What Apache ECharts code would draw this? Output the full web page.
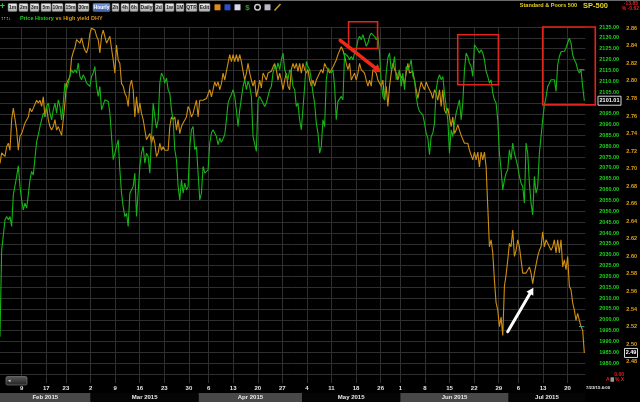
<!DOCTYPE html>
<html><head><meta charset="utf-8">
<script src="https://cdn.jsdelivr.net/npm/echarts@6/dist/echarts.min.js"></script>
<style>html,body{margin:0;padding:0;background:#000;overflow:hidden}#c{width:640px;height:402px}</style>
</head><body><div id="c"></div>
<script>
// ---------- DATA ----------
// Time axis: trading-day index (0 = Mon 2 Feb 2015). Samples are uniformly spaced in trading time.
const START_DAY = 0.589;
const SAMPLE_STEP = 0.3385;
const AXIS_MIN_DAY = 0.589;
const AXIS_MAX_DAY = 119.6;

// S&P 500 (Price History, left scale)
const priceValues = [
1992.2,2032.2,2039.1,2046.1,2047.6,2046.1,2047.6,2043.0,2057.6,2058.4,
2066.1,2071.0,2061.5,2055.3,2050.7,2053.8,2051.5,2057.6,2064.5,2068.4,
2066.8,2067.6,2082.2,2085.3,2089.1,2092.2,2095.3,2093.8,2098.4,2099.9,
2095.3,2092.2,2096.8,2099.9,2095.3,2101.4,2098.4,2092.2,2099.9,2109.1,
2106.1,2109.1,2112.2,2115.3,2113.8,2115.3,2113.8,2118.4,2112.2,2110.7,
2113.0,2111.5,2109.1,2108.8,2107.6,2112.2,2113.8,2116.8,2107.6,2103.0,
2107.6,2096.8,2099.1,2101.4,2102.2,2100.7,2095.3,2084.5,2073.8,2076.8,
2079.9,2083.0,2069.1,2058.4,2052.2,2047.6,2049.1,2043.0,2058.4,2059.9,
2061.5,2067.6,2047.6,2047.6,2070.7,2076.8,2079.9,
2072.2,2076.8,2075.3,2067.6,2067.6,2099.9,2093.8,2088.4,2092.2,2109.1,
2113.8,2112.2,2109.1,2111.5,2106.1,2104.5,2096.8,2092.2,2078.4,2073.8,
2061.5,2055.3,2064.5,2058.4,2063.0,2059.9,2061.5,2079.9,2087.6,2089.1,
2078.4,2079.9,2067.6,2055.3,2058.4,2070.7,2067.6,2067.6,2069.1,2081.5,
2086.1,2087.6,2088.4,2084.5,2080.7,2083.8,2081.8,2082.7,2085.3,2092.2,
2099.9,2102.2,2103.8,2106.1,2103.0,2096.8,2089.1,2096.8,2096.8,2107.6,
2110.7,2106.1,2109.9,2107.6,2103.0,2084.5,2084.5,2077.6,2101.4,2103.0,
2101.4,2099.9,2098.4,2099.9,2103.0,2106.1,2107.6,2113.8,2116.8,2115.3,
2118.4,2115.3,2119.9,2123.0,2115.3,2113.0,2110.7,
2115.3,2113.8,2107.6,2106.1,2098.4,2099.9,2092.2,2087.6,2097.6,2107.6,
2119.1,2116.8,2115.3,2110.7,2104.5,2099.9,2090.7,2086.1,2076.8,2079.9,
2092.2,2089.1,2110.7,2116.1,2116.1,2113.8,2115.3,2107.6,2092.2,2100.7,
2099.9,2103.0,2101.4,2123.0,2123.8,2121.4,2119.9,2121.4,2119.9,2123.0,
2124.5,2129.1,2130.7,2129.1,2131.5,2129.1,2126.1,2127.6,2130.7,2132.2,
2131.5,2130.7,2129.1,2130.7,2123.0,2109.1,2103.0,2101.4,2113.8,2120.7,
2123.0,2115.3,2116.8,2121.4,2110.7,2110.7,2115.3,2107.6,2113.8,2106.1,
2116.8,2115.3,2116.8,2119.9,2112.2,2110.7,2103.0,2098.4,2096.1,2095.6,
2094.5,2090.7,2086.1,2083.8,2076.1,2084.5,2086.1,
2090.7,2106.1,2110.7,2113.0,2110.7,2112.2,2104.5,2098.4,2092.2,2076.8,
2087.6,2084.5,2090.7,2095.3,2098.4,2101.4,2092.2,2099.9,2115.3,2123.0,
2121.4,2118.4,2116.8,2112.2,2126.8,2126.1,2124.5,2123.0,2124.5,2123.0,
2119.9,2114.5,2112.2,2109.1,2110.7,2104.5,2101.4,2099.9,2092.2,2076.8,
2069.1,2059.9,2064.5,2067.6,2069.1,2078.4,2073.8,2081.5,2076.8,2073.8,
2070.7,2066.1,2063.0,2061.5,2053.8,2081.5,2076.8,2063.0,2053.8,2048.4,
2066.1,2058.4,2061.5,2076.8,2076.8,2092.2,2099.1,2102.7,2107.6,2109.1,
2110.7,2111.5,2110.7,2105.3,2117.6,2121.4,2123.6,2123.3,2123.8,2125.3,
2127.6,2129.9,2127.6,2122.2,2119.9,2118.4,2115.3,2113.8,2115.3,2107.6,
2101.01
];

// High yield DHY (right scale)
const dhyValues = [
2.706,2.718,2.718,2.714,2.725,2.729,2.721,2.756,2.769,2.769,
2.744,2.721,2.737,2.740,2.740,2.752,2.752,2.759,2.769,2.765,
2.769,2.767,2.778,2.775,2.778,2.771,2.782,2.759,2.771,2.756,
2.748,2.744,2.748,2.756,2.744,2.748,2.748,2.738,2.756,2.775,
2.797,2.801,2.805,2.826,2.833,2.838,2.847,2.849,2.843,2.849,
2.841,2.835,2.832,2.839,2.854,2.860,2.860,2.858,2.851,2.847,
2.832,2.851,2.858,2.860,2.843,2.843,2.851,2.837,2.824,2.809,
2.841,2.824,2.820,2.797,2.794,2.786,2.782,2.771,2.794,2.801,
2.790,2.759,2.782,2.763,2.775,2.763,2.756,
2.756,2.733,2.733,2.740,2.729,2.737,2.729,2.714,2.718,2.729,
2.721,2.725,2.721,2.721,2.721,2.748,2.759,2.756,2.759,2.744,
2.756,2.740,2.748,2.752,2.752,2.759,2.771,2.767,2.759,2.763,
2.771,2.778,2.759,2.778,2.780,2.778,2.780,2.780,2.782,2.790,
2.782,2.790,2.799,2.794,2.799,2.790,2.797,2.809,2.801,2.811,
2.809,2.830,2.822,2.830,2.822,2.830,2.822,2.830,2.822,2.811,
2.801,2.809,2.820,2.809,2.801,2.794,2.801,2.782,2.790,2.801,
2.792,2.809,2.811,2.801,2.809,2.811,2.811,2.816,2.820,2.813,
2.801,2.809,2.801,2.790,2.801,2.809,2.794,
2.790,2.813,2.820,2.814,2.820,2.811,2.820,2.809,2.820,2.813,
2.809,2.813,2.801,2.794,2.801,2.794,2.801,2.803,2.809,2.813,
2.809,2.820,2.816,2.813,2.809,2.811,2.816,2.820,2.824,2.830,
2.832,2.839,2.835,2.828,2.820,2.813,2.820,2.801,2.803,2.809,
2.801,2.809,2.820,2.813,2.811,2.809,2.801,2.794,2.801,2.794,
2.813,2.811,2.809,2.801,2.801,2.794,2.801,2.778,2.794,2.771,
2.794,2.809,2.820,2.813,2.809,2.801,2.809,2.805,2.801,2.797,
2.809,2.820,2.809,2.809,2.811,2.809,2.790,2.780,2.790,2.799,
2.794,2.790,2.799,2.794,2.790,2.786,2.780,
2.790,2.786,2.778,2.790,2.771,2.790,2.767,2.763,2.769,2.759,
2.748,2.759,2.740,2.744,2.750,2.744,2.738,2.738,2.729,2.731,
2.729,2.721,2.721,2.710,2.719,2.710,2.719,2.702,2.719,2.710,
2.719,2.702,2.657,2.611,2.619,2.604,2.573,2.547,2.539,2.520,
2.531,2.510,2.566,2.579,2.596,2.615,2.611,2.630,2.600,2.607,
2.619,2.611,2.596,2.581,2.581,2.581,2.581,2.588,2.581,2.569,
2.581,2.581,2.600,2.607,2.611,2.628,2.611,2.619,2.621,2.611,
2.607,2.611,2.619,2.604,2.619,2.604,2.619,2.588,2.596,2.585,
2.600,2.566,2.562,2.547,2.539,2.527,2.535,2.527,2.520,2.516,
2.49
];

// x-axis ticks (trading-day index of each week start) and their labels
const tickDays   = [5,10,14,19,24,29,34,39,43,48,53,58,63,68,73,78,82,87,92,97,102,106,111,116];
const tickLabels = ['9','17','23','2','9','16','23','30','6','13','20','27','4','11','18','26','1','8','15','22','29','6','13','20'];

// month bands
const monthNames     = ['Feb 2015','Mar 2015','Apr 2015','May 2015','Jun 2015','Jul 2015'];
const monthStartDays = [0,19,41,62,82,104];

// y-axis tick labels
const priceTickValues = [1980,1985,1990,1995,2000,2005,2010,2015,2020,2025,2030,2035,2040,2045,2050,2055,
  2060,2065,2070,2075,2080,2085,2090,2095,2100,2105,2110,2115,2120,2125,2130,2135];
const dhyTickValues = [2.48,2.50,2.52,2.54,2.56,2.58,2.60,2.62,2.64,2.66,2.68,2.70,2.72,2.74,2.76,2.78,2.80,2.82,2.84,2.86];

// ---------- CHART ----------
const FONT = '"Liberation Sans", Arial, sans-serif';
const chart = echarts.init(document.getElementById('c'), null, {renderer: 'canvas'});
const priceData = priceValues.map((v, i) => [START_DAY + i * SAMPLE_STEP, v]);
const dhyData = dhyValues.map((v, i) => [START_DAY + i * SAMPLE_STEP, v]);
const GRIDC = '#2f2f2f';

chart.setOption({
  backgroundColor: '#000',
  animation: false,
  grid: {left: 0, right: 54, top: 27, bottom: 28},
  xAxis: {
    type: 'value', min: AXIS_MIN_DAY, max: AXIS_MAX_DAY,
    axisLine: {show: false},
    axisTick: {show: true, customValues: tickDays, length: 9, lineStyle: {color: GRIDC}},
    axisLabel: {customValues: tickDays, color: '#e6e6e6', fontSize: 6, fontWeight: 'bold', margin: 11, fontFamily: FONT,
      formatter: v => { const k = tickDays.indexOf(Math.round(v)); return k >= 0 ? tickLabels[k] : ''; }},
    splitLine: {show: true, lineStyle: {color: GRIDC, width: 1}}
  },
  yAxis: [
    {type: 'value', position: 'right', min: 1975, max: 2135, interval: 5,
      axisLine: {show: false}, axisTick: {show: false},
      axisLabel: {customValues: priceTickValues, formatter: v => v.toFixed(2), color: '#1fd11f', fontSize: 5.5,
        fontWeight: 'bold', margin: 14, align: 'left', fontFamily: FONT},
      splitLine: {show: true, lineStyle: {color: GRIDC, width: 1}}},
    {type: 'value', position: 'right', min: 2.466, max: 2.8615,
      axisLine: {show: false}, axisTick: {show: false},
      axisLabel: {customValues: dhyTickValues, formatter: v => v.toFixed(2), color: '#e3a21a', fontSize: 5.5,
        fontWeight: 'bold', margin: 41, align: 'left', fontFamily: FONT},
      splitLine: {show: false}}
  ],
  series: [
    {name: 'vs High yield DHY', type: 'line', yAxisIndex: 1, data: dhyData, showSymbol: false, clip: false,
      lineStyle: {color: '#cf8f10', width: 1.1}, z: 2},
    {name: 'Price History', type: 'line', yAxisIndex: 0, data: priceData, showSymbol: false, clip: false,
      lineStyle: {color: '#16b416', width: 1.1}, z: 3}
  ]
});

// ---------- ANNOTATIONS (placed in data space, converted through the chart's scales) ----------
const P = (d, p) => chart.convertToPixel({seriesIndex: 1}, [d, p]);
const D = (d, v) => chart.convertToPixel({seriesIndex: 0}, [d, v]);
const XD = d => chart.convertToPixel({xAxisIndex: 0}, d);

const redBoxes = [[71.47, 77.36, 2137.4, 2125.1], [93.66, 101.93, 2131.4, 2108.4], [110.93, 121.63, 2135.0, 2099.1]];
const redArrow = [[69.78, 2128.8], [78.11, 2114.0]];
const whiteArrow = [[103.82, 1994.5], [109.04, 2014.8]];

const g = [];
redBoxes.forEach(b => {
  const a = P(b[0], b[2]), c = P(b[1], b[3]);
  g.push({type: 'rect', shape: {x: a[0], y: a[1], width: c[0] - a[0], height: c[1] - a[1]},
    style: {fill: 'none', stroke: '#e3241b', lineWidth: 1.6}, z: 50});
});
function arrow(from, to, color, w, headL, headW) {
  const a = P(from[0], from[1]), b = P(to[0], to[1]);
  const dx = b[0] - a[0], dy = b[1] - a[1], L = Math.hypot(dx, dy), ux = dx / L, uy = dy / L;
  const bx = b[0] - ux * headL, by = b[1] - uy * headL;
  g.push({type: 'line', shape: {x1: a[0], y1: a[1], x2: bx, y2: by}, style: {stroke: color, lineWidth: w, lineCap: 'round'}, z: 51});
  g.push({type: 'polygon', shape: {points: [[b[0], b[1]], [bx - uy * headW, by + ux * headW], [bx + uy * headW, by - ux * headW]]},
    style: {fill: color}, z: 51});
}
arrow(redArrow[0], redArrow[1], '#f0281a', 3.6, 8, 4.5);
arrow(whiteArrow[0], whiteArrow[1], '#ffffff', 3, 7, 4);

// last-bar markers (teal ticks at the end of each line)
const lastDay = START_DAY + (priceValues.length - 1) * SAMPLE_STEP;
[[P(lastDay - 1.1, 2115.3), P(lastDay, 2115.3)], [D(lastDay - 1.1, 2.520), D(lastDay, 2.520)]].forEach(s => {
  g.push({type: 'line', shape: {x1: s[0][0], y1: s[0][1], x2: s[1][0], y2: s[1][1]}, style: {stroke: '#3aa6a0', lineWidth: 1}, z: 45});
});

// last-value boxes
const lp = P(lastDay, priceValues[priceValues.length - 1]);
g.push({type: 'rect', shape: {x: 598, y: lp[1] - 4.5, width: 23, height: 9}, style: {fill: '#000', stroke: '#d8d8d8', lineWidth: 1}, z: 60});
g.push({type: 'text', x: 609.5, y: lp[1], style: {text: priceValues[priceValues.length - 1].toFixed(2), fill: '#fff', font: 'bold 5.5px ' + FONT, align: 'center', verticalAlign: 'middle'}, z: 61});
const ld = D(lastDay, dhyValues[dhyValues.length - 1]);
g.push({type: 'rect', shape: {x: 624.5, y: ld[1] - 4.5, width: 13, height: 9}, style: {fill: '#000', stroke: '#d8d8d8', lineWidth: 1}, z: 60});
g.push({type: 'text', x: 631, y: ld[1], style: {text: dhyValues[dhyValues.length - 1].toFixed(2), fill: '#fff', font: 'bold 5.5px ' + FONT, align: 'center', verticalAlign: 'middle'}, z: 61});

// month bands
const gridRight = XD(AXIS_MAX_DAY);
monthNames.forEach((m, i) => {
  const x0 = Math.max(0, XD(monthStartDays[i]));
  const x1 = i + 1 < monthStartDays.length ? XD(monthStartDays[i + 1]) : gridRight;
  g.push({type: 'rect', shape: {x: x0, y: 393, width: x1 - x0, height: 9},
    style: {fill: i % 2 === 0 ? '#484848' : '#050505'}, z: 40});
  g.push({type: 'text', x: (x0 + x1) / 2, y: 397.8, style: {text: m, fill: '#e8e8e8', font: 'bold 6px ' + FONT, align: 'center', verticalAlign: 'middle'}, z: 41});
});

// toolbar
const buttons = [['1m',8,9],['2m',19,9],['3m',30,9],['5m',41,10],['10m',52,11],['15m',65,11],['30m',78,11],['Hourly',93,17],
  ['2h',112,7],['4h',121,8],['6h',130,8],['Daily',140,13],['2d',155,8],['1w',165,9],['1M',176,8],['QTR',186,11],['Edit',199,11]];
g.push({type: 'rect', shape: {x: 0, y: 0, width: 640, height: 1}, style: {fill: '#6a6a6a'}, z: 40});
g.push({type: 'text', x: 2.5, y: 7, style: {text: '+', fill: '#2fcf2f', font: 'bold 9px ' + FONT, align: 'center', verticalAlign: 'middle'}, z: 41});
buttons.forEach(b => {
  const hl = b[0] === 'Hourly';
  g.push({type: 'rect', shape: {x: b[1], y: 3.5, width: b[2], height: 8, r: 1},
    style: {fill: hl ? new echarts.graphic.LinearGradient(0, 0, 0, 1, [{offset: 0, color: '#7f9fe0'}, {offset: 1, color: '#3c5fae'}])
      : new echarts.graphic.LinearGradient(0, 0, 0, 1, [{offset: 0, color: '#f2f2f2'}, {offset: 1, color: '#a6a6a6'}]),
      stroke: '#6d6d6d', lineWidth: 0.6}, z: 40});
  g.push({type: 'text', x: b[1] + b[2] / 2, y: 7.6, style: {text: b[0], fill: hl ? '#fff' : '#222', font: 'bold 5px ' + FONT, align: 'center', verticalAlign: 'middle'}, z: 41});
});
const icons = [[214.5,'#e08a1a'],[224.5,'#2a4fc8'],[234.5,'#d8d8e8'],[244.5,'#1fa51f'],[254.5,'#c8c8c8'],[264.5,'#b8b8c8'],[274.5,'#c89a3a']];
icons.forEach((ic, k) => {
  if (k === 3) {
    g.push({type: 'text', x: ic[0] + 3, y: 7.3, style: {text: '$', fill: ic[1], font: 'bold 8px ' + FONT, align: 'center', verticalAlign: 'middle'}, z: 41});
  } else if (k === 4) {
    g.push({type: 'circle', shape: {cx: ic[0] + 3, cy: 7.3, r: 2.8}, style: {fill: 'none', stroke: ic[1], lineWidth: 1.5}, z: 41});
  } else if (k === 6) {
    g.push({type: 'line', shape: {x1: ic[0], y1: 10.5, x2: ic[0] + 6, y2: 4}, style: {stroke: ic[1], lineWidth: 1.5}, z: 41});
  } else {
    g.push({type: 'rect', shape: {x: ic[0], y: 4.3, width: 6, height: 6}, style: {fill: ic[1]}, z: 41});
  }
});

// legend line
g.push({type: 'text', x: 1, y: 18.3, style: {text: '↕↑↕↓', fill: '#b8c8ff', font: 'bold 5px ' + FONT, verticalAlign: 'middle'}, z: 41});
g.push({type: 'text', x: 20, y: 18.3, style: {text: 'Price History', fill: '#22c822', font: 'bold 5.5px ' + FONT, verticalAlign: 'middle'}, z: 41});
g.push({type: 'text', x: 55.5, y: 18.3, style: {text: 'vs High yield DHY', fill: '#d9961a', font: 'bold 5.5px ' + FONT, verticalAlign: 'middle'}, z: 41});

// title area
g.push({type: 'text', x: 577, y: 5.8, style: {text: 'Standard & Poors 500', fill: '#e7d21c', font: 'bold 5.5px ' + FONT, align: 'right', verticalAlign: 'middle'}, z: 41});
g.push({type: 'text', x: 583, y: 5.8, style: {text: 'SP-500', fill: '#e7d21c', font: 'bold 7.5px ' + FONT, verticalAlign: 'middle'}, z: 41});
g.push({type: 'text', x: 638, y: 3.3, style: {text: '-13.85', fill: '#e52020', font: 'bold 5px ' + FONT, align: 'right', verticalAlign: 'middle'}, z: 41});
g.push({type: 'text', x: 639, y: 8.6, style: {text: '% -0.62', fill: '#e52020', font: 'bold 5px ' + FONT, align: 'right', verticalAlign: 'middle'}, z: 41});

// bottom right / left bits
g.push({type: 'text', x: 624, y: 374.2, style: {text: '0.00', fill: '#e52020', font: 'bold 5px ' + FONT, align: 'right', verticalAlign: 'middle'}, z: 41});
g.push({type: 'text', x: 606, y: 379.6, style: {text: 'A', fill: '#e52020', font: 'bold 5px ' + FONT, verticalAlign: 'middle'}, z: 41});
g.push({type: 'rect', shape: {x: 610.5, y: 377.3, width: 3.5, height: 4.5}, style: {fill: '#9a9a9a'}, z: 41});
g.push({type: 'text', x: 615, y: 379.6, style: {text: '% X', fill: '#e52020', font: 'bold 5px ' + FONT, verticalAlign: 'middle'}, z: 41});
g.push({type: 'text', x: 586, y: 387.8, style: {text: '7/23/15 4:00', fill: '#e8e8e8', font: 'bold 4.3px ' + FONT, verticalAlign: 'middle'}, z: 41});
g.push({type: 'rect', shape: {x: 6, y: 376.5, width: 21, height: 8.5, r: 1.5},
  style: {fill: new echarts.graphic.LinearGradient(0, 0, 0, 1, [{offset: 0, color: '#5a5a5a'}, {offset: 1, color: '#222'}]), stroke: '#888', lineWidth: 0.6}, z: 41});
g.push({type: 'text', x: 8, y: 380.7, style: {text: '◂', fill: '#ddd', font: '5px ' + FONT, verticalAlign: 'middle'}, z: 42});

chart.setOption({graphic: g});
</script>
</body></html>
